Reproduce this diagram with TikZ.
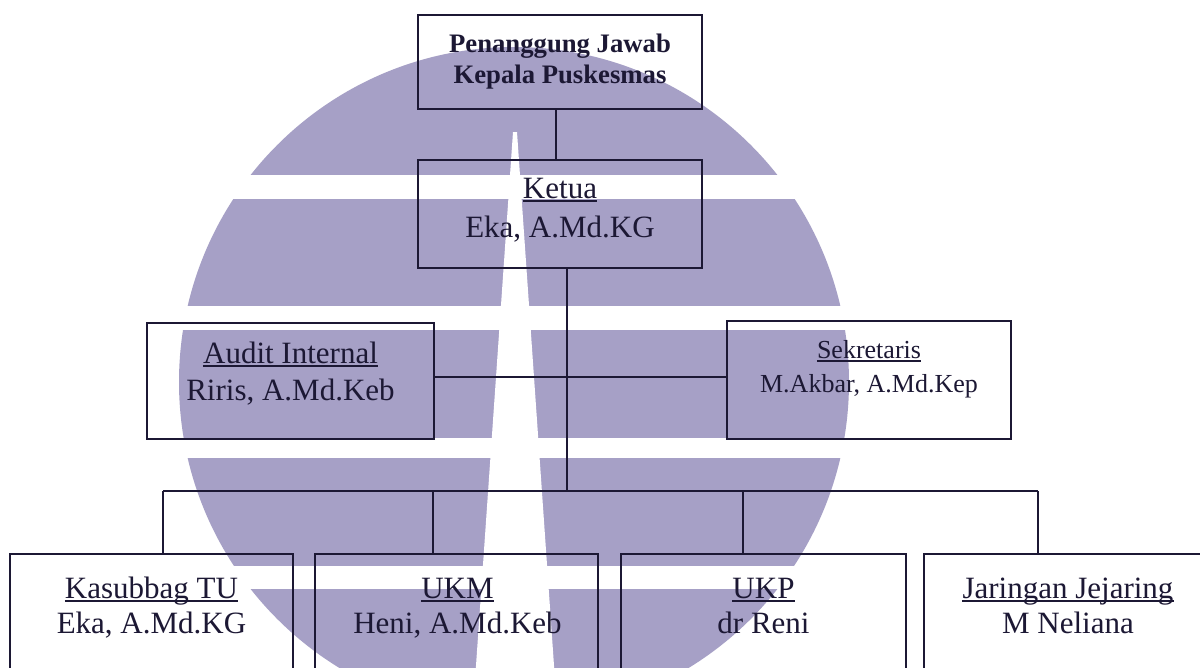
\documentclass[tikz,border=0pt]{standalone}
\usepackage{fontspec}
\setmainfont{Liberation Serif}
\definecolor{wm}{RGB}{166,160,198}
\definecolor{ink}{RGB}{28,24,52}
\begin{document}
\begin{tikzpicture}[x=1pt,y=-1pt,
  box/.style={draw=ink,line width=1.8pt,inner sep=0pt,rectangle},
  conn/.style={draw=ink,line width=1.5pt},
  uline/.style={draw=ink,line width=1.3pt},
  txt/.style={text=ink,inner sep=0pt,anchor=base,font=\fontsize{31}{31}\selectfont},
  txts/.style={text=ink,inner sep=0pt,anchor=base,font=\fontsize{26}{26}\selectfont},
  txtb/.style={text=ink,inner sep=0pt,anchor=base,font=\fontsize{26.7}{27}\selectfont\bfseries}]
\useasboundingbox (0,0) rectangle (1200,667);
\clip (0,0) rectangle (1200,667);
\fill[white] (0,0) rectangle (1200,667);
% watermark
\fill[wm] (514,382) circle[radius=335];
\fill[white] (0,175) rectangle (1200,199);
\fill[white] (0,306) rectangle (1200,330);
\fill[white] (0,438) rectangle (1200,458);
\fill[white] (0,566) rectangle (1200,589);
\fill[white] (513,132) -- (517,132) -- (555,680) -- (475,680) -- cycle;
% boxes
\node[box,minimum width=284pt,minimum height=94pt] (P) at (560,62) {};
\node[box,minimum width=284pt,minimum height=108pt] (K) at (560,214) {};
\node[box,minimum width=287pt,minimum height=116pt] (A) at (290.5,381) {};
\node[box,minimum width=284pt,minimum height=118pt] (S) at (869,380) {};
\node[box,minimum width=283pt,minimum height=146pt] (Ks) at (151.5,627) {};
\node[box,minimum width=283pt,minimum height=146pt] (M) at (456.5,627) {};
\node[box,minimum width=285pt,minimum height=146pt] (U) at (763.5,627) {};
\node[box,minimum width=291pt,minimum height=146pt] (J) at (1069.5,627) {};
% texts
\node[txtb] (p1) at (560,52) {Penanggung Jawab};
\node[txtb] (p2) at (560,83) {Kepala Puskesmas};
\node[txt] (k1) at (560,198) {Ketua};
\node[txt] (k2) at (560,237) {Eka, A.Md.KG};
\node[txt] (a1) at (290.5,363) {Audit Internal};
\node[txt] (a2) at (290.5,400) {Riris, A.Md.Keb};
\node[txts] (s1) at (869,358) {Sekretaris};
\node[txts] (s2) at (869,392) {M.Akbar, A.Md.Kep};
\node[txt] (ks1) at (151.5,598) {Kasubbag TU};
\node[txt] (ks2) at (151.5,633) {Eka, A.Md.KG};
\node[txt] (m1) at (457.5,598) {UKM};
\node[txt] (m2) at (457.5,633) {Heni, A.Md.Keb};
\node[txt] (u1) at (763.5,598) {UKP};
\node[txt] (u2) at (763.5,633) {dr Reni};
\node[txt] (j1t) at (1068,598) {Jaringan Jejaring};
\node[txt] (j2t) at (1068,633) {M Neliana};
% underlines
\foreach \t in {k1,a1,s1,ks1,m1,u1,j1t}
  \draw[uline] ([yshift=-3pt]\t.base west) -- ([yshift=-3pt]\t.base east);
% connectors
\coordinate (c1) at (556,0);
\coordinate (c2) at (567,0);
\coordinate (hy) at (0,377);
\coordinate (busL) at (163,491);
\coordinate (busR) at (1038,491);
\coordinate (dM) at (433,491);
\coordinate (dU) at (743,491);
\draw[conn] (P.south -| c1) -- (K.north -| c1);
\draw[conn] (K.south -| c2) -- (c2 |- busL);
\draw[conn] (A.east |- hy) -- (S.west |- hy);
\draw[conn] (busL) -- (busR);
\draw[conn] (busL) -- (busL |- Ks.north);
\draw[conn] (dM) -- (dM |- M.north);
\draw[conn] (dU) -- (dU |- U.north);
\draw[conn] (busR) -- (busR |- J.north);
\end{tikzpicture}
\end{document}
